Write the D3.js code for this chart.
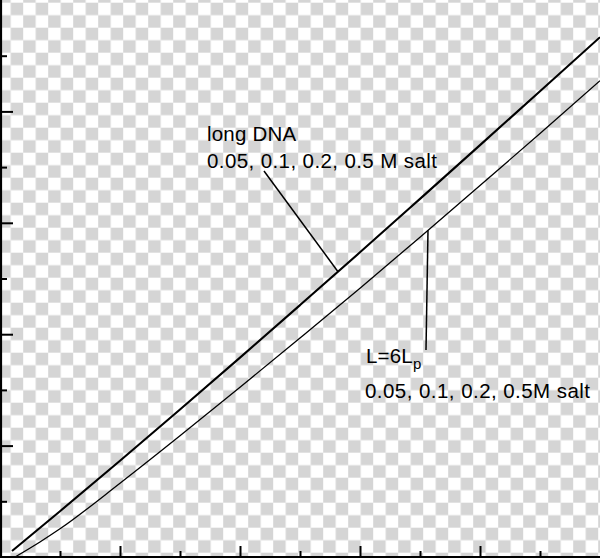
<!DOCTYPE html>
<html>
<head>
<meta charset="utf-8">
<script src="https://cdn.jsdelivr.net/npm/d3@7"></script>
<style>
  html, body { margin: 0; padding: 0; background: #fff; }
  svg { display: block; }
  text { font-family: "Liberation Sans", Arial, Helvetica, sans-serif; fill: #000; }
</style>
</head>
<body>
<div id="chart"></div>
<script>
// ---- data ----
const xLong  = [0.1, 0.5, 1.0, 1.5, 2.0, 2.5, 3.0, 3.5, 4.0, 4.5, 5.0];
const yLong  = [0.054, 0.411, 0.864, 1.324, 1.790, 2.261, 2.735, 3.215, 3.697, 4.181, 4.666];
const xShort = [0.125, 0.333, 0.5, 1.0, 1.5, 2.0, 2.5, 3.0, 3.5, 4.0, 4.5, 5.0];
const yShort = [0.0, 0.135, 0.253, 0.662, 1.088, 1.524, 1.966, 2.413, 2.871, 3.334, 3.802, 4.276];
const xTicks = [0.5, 1, 1.5, 2, 2.5, 3, 3.5, 4, 4.5];
const yTicks = [0.5, 1, 1.5, 2, 2.5, 3, 3.5, 4, 4.5];
const labelLong  = ["long DNA", "0.05, 0.1, 0.2, 0.5 M salt"];
const labelShort = ["L=6L", "p", "0.05, 0.1, 0.2, 0.5M salt"];

const W = 600, H = 558;
const svg = d3.select("#chart").append("svg").attr("width", W).attr("height", H);

// checkerboard background
const defs = svg.append("defs");
const pat = defs.append("pattern").attr("id", "chk")
  .attr("patternUnits", "userSpaceOnUse")
  .attr("x", -1.8).attr("y", 2.7).attr("width", 25).attr("height", 25);
pat.append("rect").attr("width", 25).attr("height", 25).attr("fill", "#ffffff");
pat.append("rect").attr("x", 12.5).attr("y", 0).attr("width", 12.5).attr("height", 12.5).attr("fill", "#d5d5d5");
pat.append("rect").attr("x", 0).attr("y", 12.5).attr("width", 12.5).attr("height", 12.5).attr("fill", "#d5d5d5");
svg.append("rect").attr("width", W).attr("height", H).attr("fill", "url(#chk)");

const x = d3.scaleLinear().domain([0, 5]).range([0, 600]);
const y = d3.scaleLinear().domain([0, 5]).range([557, 0]);

// axes (ticks inward, no labels)
function styleAxis(g) {
  g.selectAll("path.domain").attr("stroke", "#000").attr("stroke-width", 2.2);
  g.selectAll(".tick line").attr("stroke", "#000").attr("stroke-width", 2);
  g.selectAll(".tick text").remove();
}
const xAx = svg.append("g").attr("transform", `translate(0,${y(0)})`)
  .call(d3.axisTop(x).tickValues(xTicks).tickSizeOuter(0).tickFormat(""))
  .call(styleAxis);
xAx.selectAll(".tick line").attr("y2", d => Number.isInteger(d) ? -11 : -6);

const yAx = svg.append("g").attr("transform", `translate(1,0)`)
  .call(d3.axisRight(y).tickValues(yTicks).tickSizeOuter(0).tickFormat(""))
  .call(styleAxis);
yAx.selectAll(".tick line").attr("x2", d => Number.isInteger(d) ? 12 : 6);
xAx.select("path.domain").attr("d", `M0,0H${W}`);
yAx.select("path.domain").attr("d", `M0,0V${H}`);

// curves
const line = d3.line().x(d => x(d[0])).y(d => y(d[1])).curve(d3.curveMonotoneX);
const longPts = xLong.map((v, i) => [v, yLong[i]]);
const shortPts = xShort.map((v, i) => [v, yShort[i]]);
svg.append("path").datum(longPts).attr("d", line)
  .attr("fill", "none").attr("stroke", "#000").attr("stroke-width", 2.1);
svg.append("path").datum(shortPts).attr("d", line)
  .attr("fill", "none").attr("stroke", "#000").attr("stroke-width", 1.3);

function interpY(xs, ys, xv) {
  for (let i = 1; i < xs.length; i++) {
    if (xv <= xs[i]) {
      const t = (xv - xs[i - 1]) / (xs[i] - xs[i - 1]);
      return ys[i - 1] + t * (ys[i] - ys[i - 1]);
    }
  }
  return ys[ys.length - 1];
}

// annotations
const fs = 20.5;
svg.append("text").attr("x", 207).attr("y", 141).attr("font-size", fs).attr("letter-spacing", 0.2).text(labelLong[0]);
svg.append("text").attr("x", 207).attr("y", 168).attr("font-size", fs).attr("letter-spacing", 0.4).text(labelLong[1]);
const ax1 = x.invert(338);
svg.append("line").attr("x1", 264).attr("y1", 171)
  .attr("x2", 338).attr("y2", y(interpY(xLong, yLong, ax1)))
  .attr("stroke", "#000").attr("stroke-width", 1.5);

const t3 = svg.append("text").attr("x", 366).attr("y", 363).attr("font-size", fs).attr("letter-spacing", 0.2);
t3.append("tspan").text(labelShort[0]);
t3.append("tspan").attr("font-size", 15).attr("dy", 6).text(labelShort[1]);
svg.append("text").attr("x", 365).attr("y", 398).attr("font-size", fs).attr("letter-spacing", 0.45).text(labelShort[2]);
const ax2 = x.invert(428);
svg.append("line").attr("x1", 426).attr("y1", 350)
  .attr("x2", 428).attr("y2", y(interpY(xShort, yShort, ax2)))
  .attr("stroke", "#000").attr("stroke-width", 1.5);
</script>
</body>
</html>
